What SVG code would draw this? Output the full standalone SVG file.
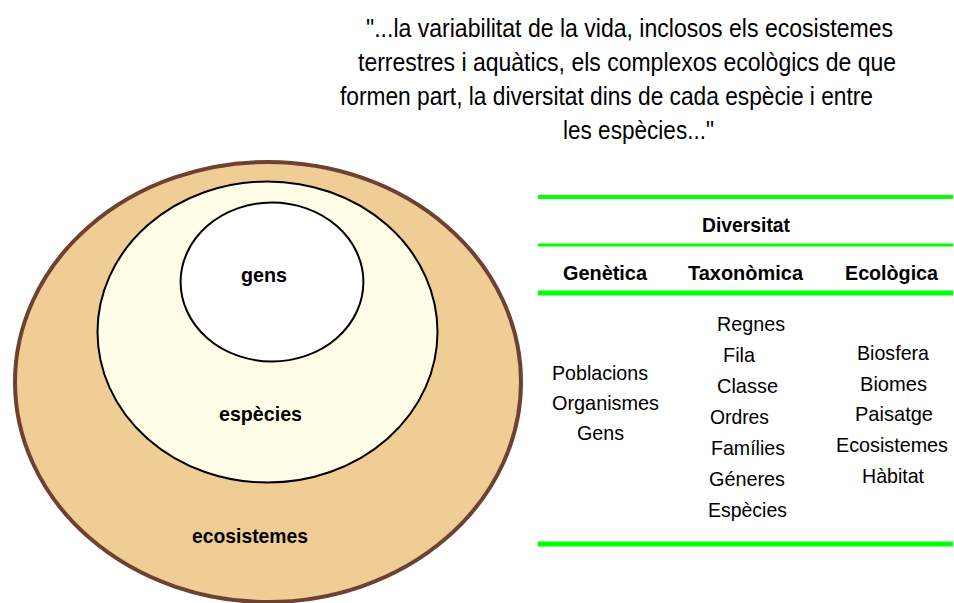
<svg xmlns="http://www.w3.org/2000/svg" width="954" height="603" viewBox="0 0 954 603">
<style>
text{font-family:"Liberation Sans",Arial,sans-serif;fill:#000}
.q{font-size:25px}
.lbl{font-size:21px;font-weight:bold;text-anchor:middle}
.hd{font-size:21px;font-weight:bold}
.it{font-size:21px}
.g{stroke:#00FF00;fill:none}
</style>
<rect width="954" height="603" fill="#fff"/>
<g id="quote">
<text class="q" x="366" y="37" textLength="527" lengthAdjust="spacingAndGlyphs">"...la variabilitat de la vida, inclosos els ecosistemes</text>
<text class="q" x="358" y="71" textLength="538" lengthAdjust="spacingAndGlyphs">terrestres i aquàtics, els complexos ecològics de que</text>
<text class="q" x="340" y="105" textLength="533" lengthAdjust="spacingAndGlyphs">formen part, la diversitat dins de cada espècie i entre</text>
<text class="q" x="563" y="139" textLength="151" lengthAdjust="spacingAndGlyphs">les espècies..."</text>
</g>
<g id="ecosistemes">
<ellipse cx="268" cy="382" rx="253" ry="220" fill="#F0CD95" stroke="#6E4232" stroke-width="4"/>
<text class="lbl" x="250" y="543" textLength="116" lengthAdjust="spacingAndGlyphs">ecosistemes</text>
</g>
<g id="especies">
<ellipse cx="267.5" cy="332" rx="170" ry="150.5" fill="#FFFDE8" stroke="#000" stroke-width="2"/>
<text class="lbl" x="260.5" y="421" textLength="83" lengthAdjust="spacingAndGlyphs">espècies</text>
</g>
<g id="gens">
<ellipse cx="272" cy="282" rx="91.4" ry="79.5" fill="#fff" stroke="#000" stroke-width="2"/>
<text class="lbl" x="264" y="282" textLength="46" lengthAdjust="spacingAndGlyphs">gens</text>
</g>
<g id="table-rules">
<line class="g" x1="538" y1="197" x2="953" y2="197" stroke-width="4"/>
<line class="g" x1="538" y1="245" x2="953" y2="245" stroke-width="3"/>
<line class="g" x1="538" y1="293" x2="953" y2="293" stroke-width="5"/>
<line class="g" x1="538" y1="544" x2="953" y2="544" stroke-width="5"/>
</g>
<g id="table-headers">
<text class="hd" x="702" y="232" textLength="88" lengthAdjust="spacingAndGlyphs">Diversitat</text>
<text class="hd" x="563" y="280" textLength="84" lengthAdjust="spacingAndGlyphs">Genètica</text>
<text class="hd" x="688" y="280" textLength="115" lengthAdjust="spacingAndGlyphs">Taxonòmica</text>
<text class="hd" x="845" y="280" textLength="93" lengthAdjust="spacingAndGlyphs">Ecològica</text>
</g>
<g id="col-genetica">
<text class="it" x="552" y="380" textLength="96" lengthAdjust="spacingAndGlyphs">Poblacions</text>
<text class="it" x="552" y="410" textLength="107" lengthAdjust="spacingAndGlyphs">Organismes</text>
<text class="it" x="577" y="440" textLength="47" lengthAdjust="spacingAndGlyphs">Gens</text>
</g>
<g id="col-taxonomica">
<text class="it" x="717" y="331" textLength="68" lengthAdjust="spacingAndGlyphs">Regnes</text>
<text class="it" x="723" y="362" textLength="32" lengthAdjust="spacingAndGlyphs">Fila</text>
<text class="it" x="717" y="393" textLength="61" lengthAdjust="spacingAndGlyphs">Classe</text>
<text class="it" x="710" y="424" textLength="59" lengthAdjust="spacingAndGlyphs">Ordres</text>
<text class="it" x="711" y="455" textLength="74" lengthAdjust="spacingAndGlyphs">Famílies</text>
<text class="it" x="709" y="486" textLength="76" lengthAdjust="spacingAndGlyphs">Géneres</text>
<text class="it" x="708" y="517" textLength="79" lengthAdjust="spacingAndGlyphs">Espècies</text>
</g>
<g id="col-ecologica">
<text class="it" x="857" y="360" textLength="72" lengthAdjust="spacingAndGlyphs">Biosfera</text>
<text class="it" x="860" y="391" textLength="67" lengthAdjust="spacingAndGlyphs">Biomes</text>
<text class="it" x="855" y="421" textLength="78" lengthAdjust="spacingAndGlyphs">Paisatge</text>
<text class="it" x="836" y="452" textLength="112" lengthAdjust="spacingAndGlyphs">Ecosistemes</text>
<text class="it" x="862" y="483" textLength="62" lengthAdjust="spacingAndGlyphs">Hàbitat</text>
</g>
</svg>
